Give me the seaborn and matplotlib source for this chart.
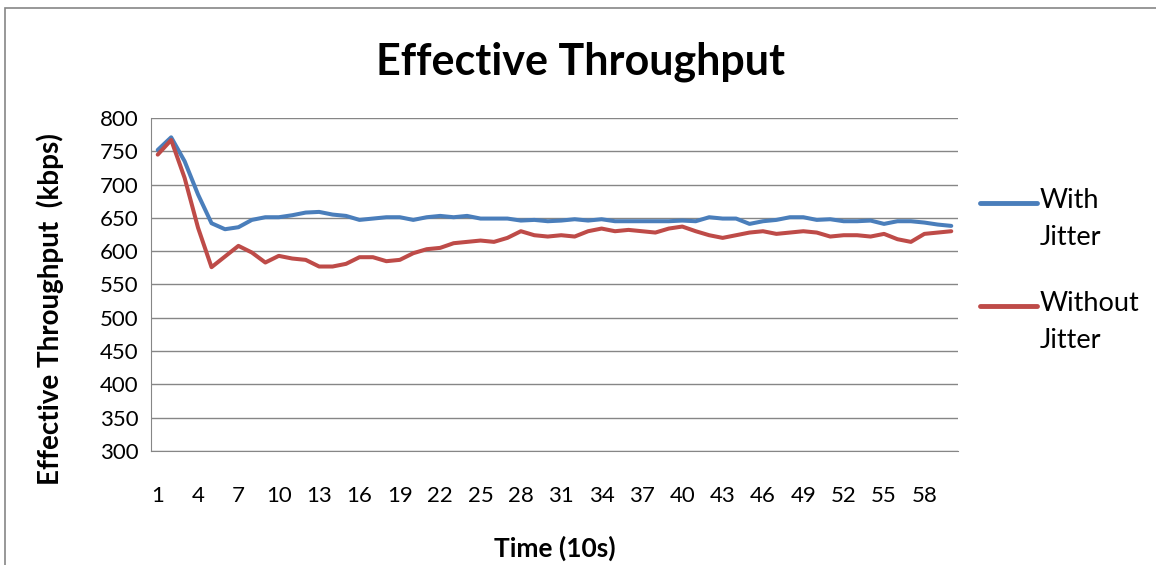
import numpy as np
import pandas as pd
import seaborn as sns
import matplotlib
matplotlib.use("Agg")
from matplotlib import pyplot as plt
from matplotlib.patches import Rectangle
from matplotlib.lines import Line2D

# values (kbps, one sample per 10 s)
with_jitter = [752, 771, 735, 685, 642, 633, 636, 647, 651, 651,
               654, 658, 659, 655, 653, 647, 649, 651, 651, 647,
               651, 653, 651, 653, 649, 649, 649, 646, 647, 645,
               646, 648, 646, 648, 645, 645, 645, 645, 645, 646,
               645, 651, 649, 649, 641, 645, 647, 651, 651, 647,
               648, 645, 645, 646, 641, 645, 645, 643, 640, 638]
without_jitter = [745, 767, 710, 635, 576, 592, 608, 598, 583, 593,
                  589, 587, 577, 577, 581, 591, 591, 585, 587, 597,
                  603, 605, 612, 614, 616, 614, 620, 630, 624, 622,
                  624, 622, 630, 634, 630, 632, 630, 628, 634, 637,
                  630, 624, 620, 624, 628, 630, 626, 628, 630, 628,
                  622, 624, 624, 622, 626, 618, 614, 626, 628, 630]
time_steps = list(range(1, len(with_jitter) + 1))
series_labels = ["With\nJitter", "Without\nJitter"]
series_colors = ["#4a7ebb", "#be4b48"]
y_ticks = list(range(300, 801, 50))

df = pd.DataFrame({
    "time": time_steps * 2,
    "kbps": with_jitter + without_jitter,
    "series": [series_labels[0]] * len(time_steps) + [series_labels[1]] * len(time_steps),
})

sns.set_style("white")
plt.rcParams["font.family"] = ["Lato", "DejaVu Sans"]
plt.rcParams["text.color"] = "black"
plt.rcParams["axes.labelcolor"] = "black"
plt.rcParams["xtick.labelcolor"] = "black"
plt.rcParams["ytick.labelcolor"] = "black"

W, H = 1156, 565
fig = plt.figure(figsize=(W / 100, H / 100), dpi=100)
ax = fig.add_axes([151 / W, 1 - 451 / H, (958 - 151) / W, (451 - 118) / H])

# outer chart frame
fig.patches.append(Rectangle((5 / W, -0.1), 1.2, 1 - 8 / H + 0.1,
                             transform=fig.transFigure, fill=False,
                             edgecolor="#868686", linewidth=1.2))

sns.lineplot(data=df, x="time", y="kbps", hue="series",
             palette=series_colors, linewidth=2.9, ax=ax, legend=False)

ax.set_xlim(0.5, len(time_steps) + 0.5)
ax.set_ylim(300, 800)
ax.set_yticks(y_ticks)
ax.set_xticks(time_steps[::3])
ax.set_xticks(np.arange(0.5, len(time_steps) + 1, 1), minor=True)
ax.tick_params(axis="x", which="major", length=0, pad=25, labelsize=16)
ax.tick_params(axis="x", which="minor", length=6, color="#868686", direction="out")
ax.tick_params(axis="y", length=5, color="#868686", labelsize=16, pad=4)
ax.grid(axis="y", color="#868686", linewidth=1)
for side in ["top", "right"]:
    ax.spines[side].set_visible(False)
for side in ["left", "bottom"]:
    ax.spines[side].set_color("#868686")

ax.set_xlabel("Time (10s)", fontsize=19, fontweight="bold")
ax.xaxis.set_label_coords(0.5, (451 - 548) / (451 - 118), transform=ax.transAxes)
ax.xaxis.label.set_va("center")
ax.set_ylabel("Effective Throughput  (kbps)", fontsize=20, fontweight="bold")
ax.yaxis.set_label_coords((50 - 151) / (958 - 151), 0.5 - (309 - 284.5) / 333)
ax.yaxis.label.set_va("center")
fig.text(581 / W, 1 - 62 / H, "Effective Throughput", fontsize=31, fontweight="bold",
         ha="center", va="center")

# legend, handles aligned with the first line of each label like the reference
for label, color, y_px in zip(series_labels, series_colors, [203, 306]):
    fig.add_artist(Line2D([980 / W, 1037 / W], [1 - y_px / H] * 2, color=color,
                          linewidth=3.5, transform=fig.transFigure))
    t = fig.text(1040 / W, 1 - (y_px - 15) / H, label, fontsize=19.5, ha="left", va="top")
    t.set_linespacing(1.6)

fig.savefig("out.png", dpi=100)
